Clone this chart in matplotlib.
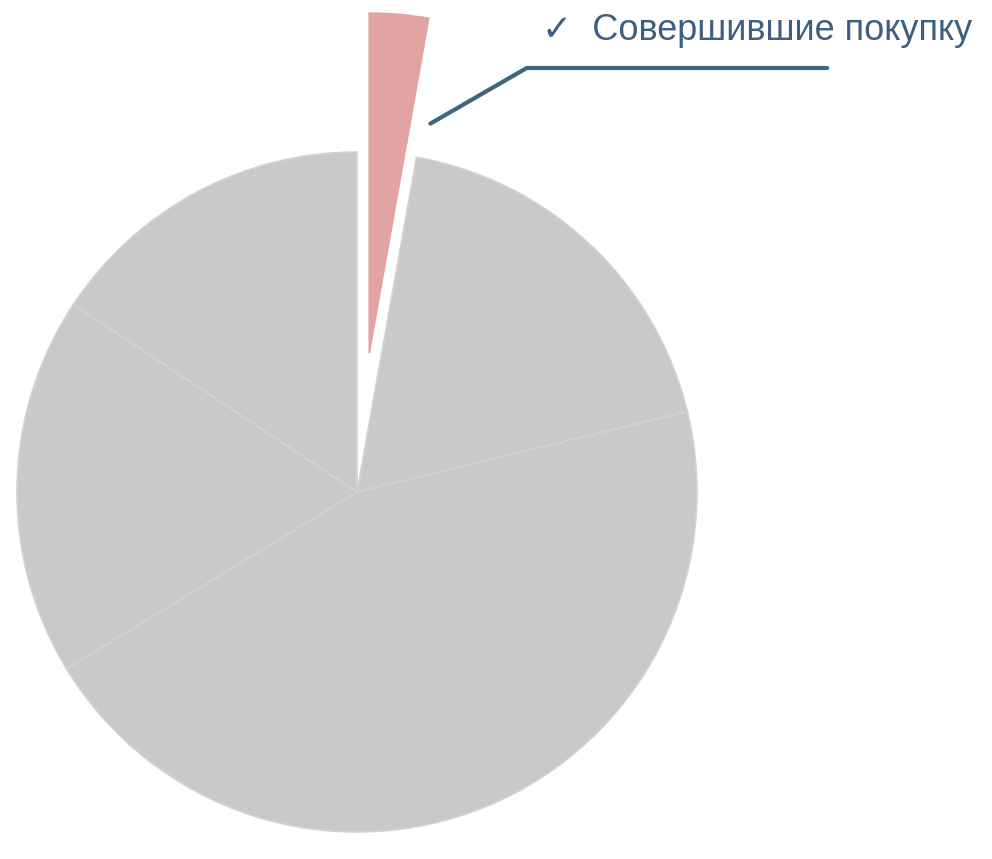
import matplotlib.pyplot as plt

# shares of customers, clockwise from 12 o'clock
segments = ["Совершившие покупку", "Группа 2", "Группа 3", "Группа 4", "Группа 5"]
shares = [2.8, 18.4, 45.1, 18.0, 15.7]
highlight = "Совершившие покупку"

W, H = 992, 859
R = 340
fig = plt.figure(figsize=(W / 100, H / 100), dpi=100)
ax = fig.add_axes([0, 0, 1, 1])

colors = ["#e2a3a3" if s == highlight else "#c9c9c9" for s in segments]
# pie explode is in data units here, so scale by the radius
explode = [0.41 * R if s == highlight else 0 for s in segments]

wedges, _ = ax.pie(shares, colors=colors, explode=explode, startangle=90,
                   counterclock=False, radius=R, center=(357, H - 492),
                   frame=True,
                   wedgeprops=dict(edgecolor="#d3d3d3", linewidth=1.2))
for w, s in zip(wedges, segments):
    if s == highlight:
        w.set_edgecolor(w.get_facecolor())

ax.set_xlim(0, W)
ax.set_ylim(0, H)
ax.axis("off")

ax.annotate("", xy=(428, H - 125), xytext=(830, H - 68),
            arrowprops=dict(arrowstyle="-", color="#3e6580", lw=3,
                            connectionstyle="angle,angleA=0,angleB=30,rad=0"))
ax.text(542, H - 30, "✓  " + highlight, fontsize=26, color="#3e5f80",
        va="center", ha="left", family=["Liberation Sans", "DejaVu Sans"])

fig.savefig("out.png", dpi=100)
